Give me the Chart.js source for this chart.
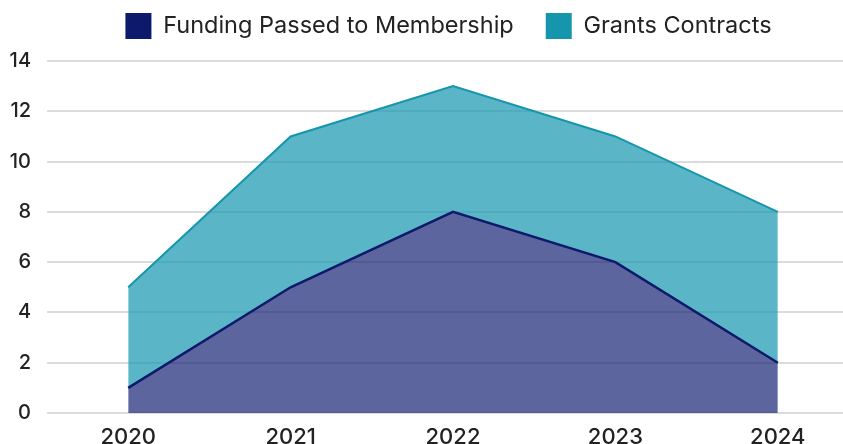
<!DOCTYPE html>
<html><head><meta charset="utf-8">
<script src="https://cdn.jsdelivr.net/npm/chart.js@4"></script>
<style>html,body{margin:0;padding:0;overflow:hidden;background:#fff;width:843px;height:444px}#wrap{width:860px;height:444px;position:relative}</style>
</head><body><div id="wrap"><canvas id="c" width="860" height="444"></canvas></div>
<script>
const years = ['2020','2021','2022','2023','2024'];
const fundingPassed = [1, 5, 8, 6, 2];
const grantsContractsTop = [5, 11, 13, 11, 8];
const yTicks = [0, 2, 4, 6, 8, 10, 12, 14];

const NAVY = '#0d1a6b', TEAL = '#1596ac';
const legendSpace = {
  id: 'legendSpace',
  afterInit(chart) {
    const lg = chart.legend;
    if (!lg) return;
    const orig = lg.fit;
    lg.fit = function() { orig.call(this); this.height -= 7; };
  },
  afterLayout(chart) {
    const lg = chart.legend;
    if (!lg) return;
    lg.left += 19; lg.right += 19;
    lg.top -= 19; lg.bottom -= 19;
  }
};
new Chart(document.getElementById('c'), {
  type: 'line',
  plugins: [legendSpace],
  data: {
    labels: years,
    datasets: [
      {label: 'Funding Passed to Membership', data: fundingPassed, borderColor: NAVY, backgroundColor: 'rgba(13,26,110,0.67)', borderWidth: 2.5, fill: 'origin', pointRadius: 0, tension: 0},
      {label: 'Grants Contracts', data: grantsContractsTop, borderColor: TEAL, backgroundColor: 'rgba(20,150,175,0.7)', borderWidth: 2, fill: '-1', pointRadius: 0, tension: 0}
    ]
  },
  options: {
    responsive: false, animation: false,
    layout: {padding: {left: 0, right: 1, top: 0, bottom: 0}},
    plugins: {
      tooltip: {enabled: false},
      legend: {
        position: 'top',
        labels: {
          boxWidth: 26, boxHeight: 26, padding: 32, color: '#222',
          font: {family: 'Inter', size: 23.5},
          generateLabels: (chart) => chart.data.datasets.map((d, i) => ({
            text: d.label, fillStyle: d.borderColor, strokeStyle: d.borderColor, lineWidth: 0, datasetIndex: i, fontColor: '#222'
          }))
        }
      }
    },
    scales: {
      x: {
        offset: true,
        grid: {display: false},
        border: {display: false},
        ticks: {color: '#222', font: {family: 'Inter', size: 22, weight: '500'}, padding: 3, maxRotation: 0},
        afterFit: (s) => { s.height = 31; }
      },
      y: {
        min: 0, max: 14,
        afterBuildTicks: (s) => { s.ticks = yTicks.map(v => ({value: v})); },
        grid: {color: '#dcdcdc', lineWidth: 2, drawTicks: false},
        border: {display: false},
        ticks: {color: '#222', font: {family: 'Inter', size: 20, weight: '500'}, padding: 16},
        afterFit: (s) => { s.width = 47; }
      }
    }
  }
});
</script></body></html>
